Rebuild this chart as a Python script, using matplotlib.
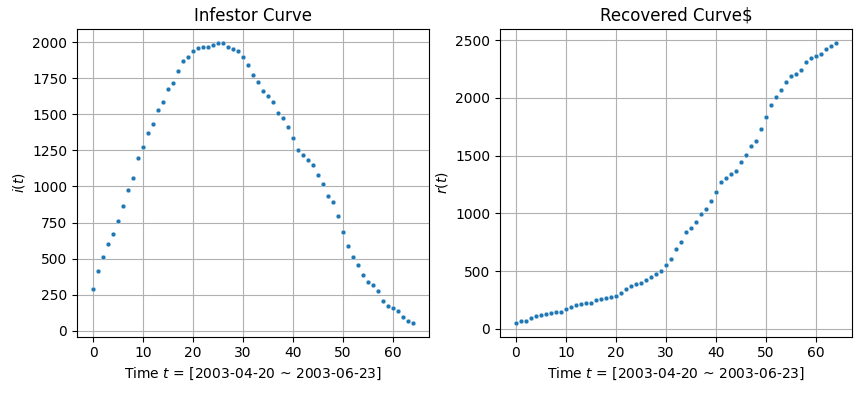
import matplotlib
matplotlib.use("Agg")
import matplotlib.pyplot as plt
import numpy as np

days = np.arange(65)

# infected i(t)
infected = [291, 415, 512, 602, 671, 761, 865, 976, 1059, 1197,
            1273, 1370, 1433, 1530, 1585, 1675, 1716, 1800, 1869, 1896,
            1938, 1958, 1966, 1966, 1979, 1993, 1993, 1966, 1952, 1938,
            1896, 1841, 1772, 1723, 1661, 1626, 1585, 1509, 1474, 1412,
            1336, 1253, 1218, 1183, 1149, 1080, 1017, 934, 893, 796,
            685, 588, 512, 457, 388, 339, 318, 277, 208, 173,
            159, 138, 97, 69, 55]

# recovered r(t)
recovered = [52, 70, 70, 90, 107, 116, 125, 133, 142, 148,
             168, 186, 203, 212, 220, 226, 246, 255, 264, 278,
             287, 307, 342, 374, 391, 400, 420, 452, 478, 497,
             550, 608, 688, 748, 834, 877, 921, 998, 1041, 1111,
             1188, 1275, 1309, 1344, 1369, 1447, 1508, 1585, 1628, 1732,
             1836, 1939, 2008, 2069, 2138, 2189, 2207, 2241, 2310, 2345,
             2362, 2379, 2422, 2448, 2474]

xlabel = "Time $t$ = [2003-04-20 ~ 2003-06-23]"

W, H = 861, 393
fig = plt.figure(figsize=(W / 100, H / 100), dpi=100)
ax1 = fig.add_axes([77 / W, (H - 336.7) / H, 352 / W, 307.4 / H])
ax2 = fig.add_axes([500 / W, (H - 336.7) / H, 352 / W, 307.4 / H])

for ax, vals, title, ylab in [(ax1, infected, "Infestor Curve", "$i(t)$"),
                              (ax2, recovered, "Recovered Curve$", "$r(t)$")]:
    ax.scatter(days, vals, s=12, color="#1f77b4", edgecolors="white", linewidths=0.3, zorder=3)
    ax.set_title(title)
    ax.set_xlabel(xlabel)
    ax.set_ylabel(ylab)
    ax.grid(True, color="#b0b0b0")
    ax.set_axisbelow(True)

ax1.set_yticks([0, 250, 500, 750, 1000, 1250, 1500, 1750, 2000])
ax2.set_yticks([0, 500, 1000, 1500, 2000, 2500])

fig.savefig("out.png", dpi=100)
